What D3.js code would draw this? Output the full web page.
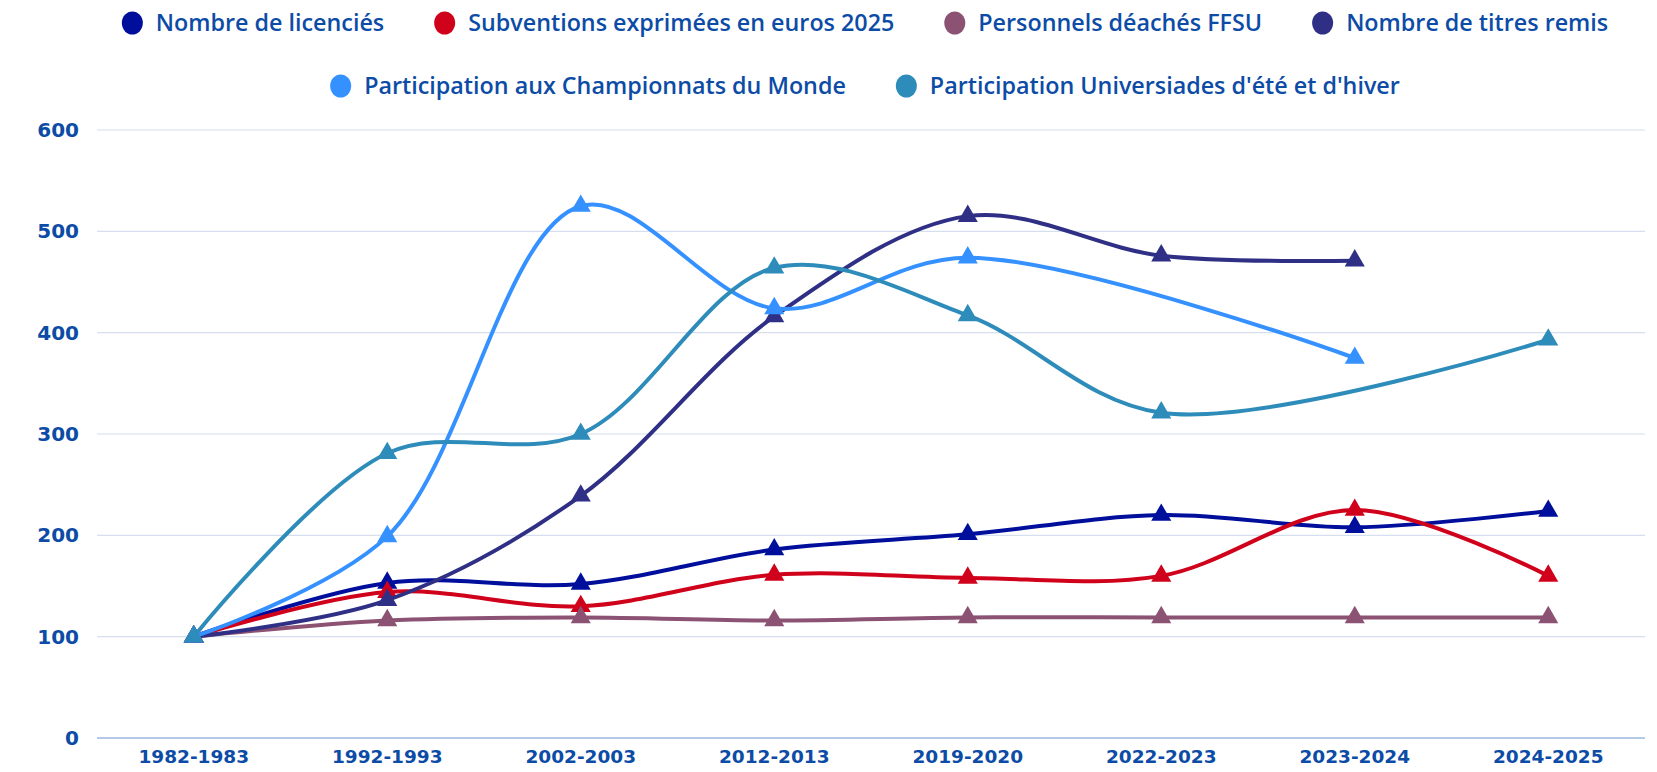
<!DOCTYPE html>
<html><head><meta charset="utf-8">
<script src="https://cdn.jsdelivr.net/npm/d3@7/dist/d3.min.js"></script>
<style>
html,body{margin:0;padding:0;background:#fff;}
svg{display:block;}
</style></head>
<body>
<svg id="chart" width="1657" height="772"></svg>
<script>
const categories = ["1982-1983","1992-1993","2002-2003","2012-2013","2019-2020","2022-2023","2023-2024","2024-2025"];
const seriesNames = ["Nombre de licenciés","Subventions exprimées en euros 2025","Personnels déachés FFSU","Nombre de titres remis","Participation aux Championnats du Monde","Participation Universiades d'été et d'hiver"];
const licencies     = [100, 153, 152, 186, 201, 220, 208, 224];
const subventions   = [100, 144, 130, 161, 158, 160, 225, 160];
const personnels    = [100, 116, 119, 116, 119, 119, 119, 119];
const titres        = [100, 136, 239, 416, 515, 476, 471, null];
const championnats  = [100, 199, 525, 424, 474, null, 375, null];
const universiades  = [100, 281, 300, 464, 417, 321, null, 393];
const yTicks = [0, 100, 200, 300, 400, 500, 600];
const colors = ["#000e9c", "#d0021b", "#8c5273", "#2f2f85", "#3591ff", "#2e8cba"];
const legendRows = [[0,1,2,3],[4,5]];

const seriesValues = [licencies, subventions, personnels, titres, championnats, universiades];
const svg = d3.select("#chart");
const plot = {left: 97, right: 1645, top: 130, bottom: 738};
const textColor = "#0c4ca6";

const x = d3.scaleBand().domain(categories).range([plot.left, plot.right]).paddingInner(0).paddingOuter(0);
const xc = c => x(c) + x.bandwidth()/2;
const y = d3.scaleLinear().domain([0, 600]).range([plot.bottom, plot.top]);

// gridlines
svg.append("g").selectAll("line").data(yTicks.filter(d => d !== 0)).join("line")
  .attr("x1", plot.left).attr("x2", plot.right)
  .attr("y1", d => y(d)).attr("y2", d => y(d))
  .attr("stroke", "#d5dff0").attr("stroke-width", 1.2);
svg.append("line").attr("x1", plot.left).attr("x2", plot.right)
  .attr("y1", y(0)).attr("y2", y(0)).attr("stroke", "#b4c8e8").attr("stroke-width", 2);

// y axis
const yAxis = svg.append("g").attr("transform", `translate(${plot.left},0)`)
  .call(d3.axisLeft(y).tickValues(yTicks).tickSize(0).tickPadding(18).tickFormat(d3.format("d")));
yAxis.select(".domain").remove();
yAxis.selectAll("text").attr("fill", textColor).style("font-family", "'DejaVu Sans', sans-serif")
  .style("font-weight", "bold").style("font-size", "20px");

// x axis
const xAxis = svg.append("g").attr("transform", `translate(0,${plot.bottom})`)
  .call(d3.axisBottom(x).tickSize(0).tickPadding(12));
xAxis.select(".domain").remove();
xAxis.selectAll("text").attr("fill", textColor).style("font-family", "'DejaVu Sans', sans-serif")
  .style("font-weight", "bold").style("font-size", "18.5px");

// lines
const line = d3.line().x(d => xc(d.c)).y(d => y(d.v)).curve(d3.curveCatmullRom.alpha(0.5));
const tri = d3.symbol().type(d3.symbolTriangle).size(175);
seriesValues.forEach((vals, i) => {
  const pts = vals.map((v, j) => ({c: categories[j], v})).filter(d => d.v !== null);
  const g = svg.append("g");
  g.append("path").datum(pts).attr("d", line).attr("fill", "none")
    .attr("stroke", colors[i]).attr("stroke-width", 4).attr("stroke-linejoin", "round");
  g.selectAll("path.m").data(pts).join("path").attr("class", "m")
    .attr("d", tri).attr("transform", d => `translate(${xc(d.c)},${y(d.v)})`)
    .attr("fill", colors[i]);
});

// legend
const legendY = [23, 86];
const legendCenter = 865;
const gapAfterText = 50;
legendRows.forEach((row, r) => {
  const g = svg.append("g");
  let cursor = 0;
  row.forEach(idx => {
    const it = g.append("g");
    it.append("ellipse").attr("cx", 10.5).attr("cy", 0).attr("rx", 10.5).attr("ry", 11.5).attr("fill", colors[idx]);
    const t = it.append("text").attr("x", 34).attr("y", 0).attr("dy", "0.35em")
      .text(seriesNames[idx]).attr("fill", textColor)
      .style("font-family", "'Open Sans', sans-serif").style("font-weight", 600).style("font-size", "23.3px");
    const w = 34 + t.node().getComputedTextLength();
    it.attr("transform", `translate(${cursor},${legendY[r]})`);
    cursor += w + gapAfterText;
  });
  const total = cursor - gapAfterText;
  g.attr("transform", `translate(${legendCenter - total/2},0)`);
});
</script>
</body></html>
